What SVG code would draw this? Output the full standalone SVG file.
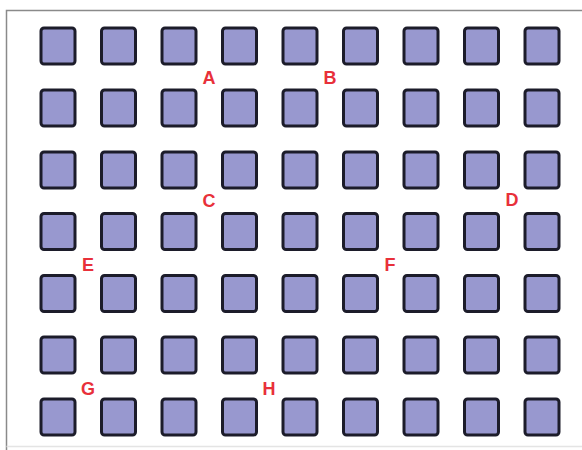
<svg xmlns="http://www.w3.org/2000/svg" width="582" height="450" viewBox="0 0 582 450">
<defs>
<style>
.sq{fill:#9898cf;stroke:#1c1c2a;stroke-width:3}
.lb{font-family:"Liberation Sans",Arial,sans-serif;font-weight:bold;font-size:18px;fill:#e8303a;text-anchor:middle}
.fr{fill:none;stroke:#8a8a8a;stroke-width:1.5}
</style>
<rect id="s" class="sq" x="0" y="0" width="34" height="36" rx="3"/>
</defs>
<rect x="0" y="0" width="582" height="450" fill="#fff"/>
<g id="frame">
<path class="fr" d="M6.5 450 V10.5 H582"/>
<path d="M6.5 446.5 H582" fill="none" stroke="#e4e4e4" stroke-width="1.5"/>
</g>
<g id="grid">
<g id="r1"><use href="#s" x="41" y="28"/><use href="#s" x="101.5" y="28"/><use href="#s" x="162" y="28"/><use href="#s" x="222.5" y="28"/><use href="#s" x="283" y="28"/><use href="#s" x="343.5" y="28"/><use href="#s" x="404" y="28"/><use href="#s" x="464.5" y="28"/><use href="#s" x="525" y="28"/></g>
<g id="r2"><use href="#s" x="41" y="90"/><use href="#s" x="101.5" y="90"/><use href="#s" x="162" y="90"/><use href="#s" x="222.5" y="90"/><use href="#s" x="283" y="90"/><use href="#s" x="343.5" y="90"/><use href="#s" x="404" y="90"/><use href="#s" x="464.5" y="90"/><use href="#s" x="525" y="90"/></g>
<g id="r3"><use href="#s" x="41" y="152"/><use href="#s" x="101.5" y="152"/><use href="#s" x="162" y="152"/><use href="#s" x="222.5" y="152"/><use href="#s" x="283" y="152"/><use href="#s" x="343.5" y="152"/><use href="#s" x="404" y="152"/><use href="#s" x="464.5" y="152"/><use href="#s" x="525" y="152"/></g>
<g id="r4"><use href="#s" x="41" y="213.5"/><use href="#s" x="101.5" y="213.5"/><use href="#s" x="162" y="213.5"/><use href="#s" x="222.5" y="213.5"/><use href="#s" x="283" y="213.5"/><use href="#s" x="343.5" y="213.5"/><use href="#s" x="404" y="213.5"/><use href="#s" x="464.5" y="213.5"/><use href="#s" x="525" y="213.5"/></g>
<g id="r5"><use href="#s" x="41" y="275.5"/><use href="#s" x="101.5" y="275.5"/><use href="#s" x="162" y="275.5"/><use href="#s" x="222.5" y="275.5"/><use href="#s" x="283" y="275.5"/><use href="#s" x="343.5" y="275.5"/><use href="#s" x="404" y="275.5"/><use href="#s" x="464.5" y="275.5"/><use href="#s" x="525" y="275.5"/></g>
<g id="r6"><use href="#s" x="41" y="337"/><use href="#s" x="101.5" y="337"/><use href="#s" x="162" y="337"/><use href="#s" x="222.5" y="337"/><use href="#s" x="283" y="337"/><use href="#s" x="343.5" y="337"/><use href="#s" x="404" y="337"/><use href="#s" x="464.5" y="337"/><use href="#s" x="525" y="337"/></g>
<g id="r7"><use href="#s" x="41" y="399"/><use href="#s" x="101.5" y="399"/><use href="#s" x="162" y="399"/><use href="#s" x="222.5" y="399"/><use href="#s" x="283" y="399"/><use href="#s" x="343.5" y="399"/><use href="#s" x="404" y="399"/><use href="#s" x="464.5" y="399"/><use href="#s" x="525" y="399"/></g>
</g>
<g id="labels">
<text class="lb" x="209" y="84">A</text>
<text class="lb" x="330" y="84">B</text>
<text class="lb" x="209" y="207">C</text>
<text class="lb" x="512" y="206">D</text>
<text class="lb" x="88" y="271">E</text>
<text class="lb" x="390" y="271">F</text>
<text class="lb" x="88" y="395">G</text>
<text class="lb" x="269" y="395">H</text>
</g>
</svg>
